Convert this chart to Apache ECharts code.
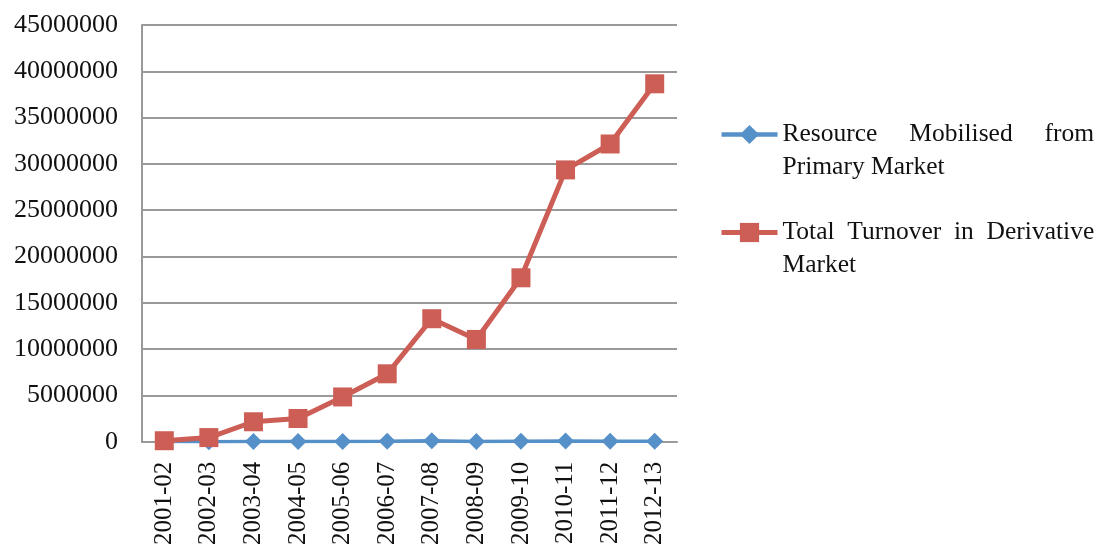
<!DOCTYPE html>
<html>
<head>
<meta charset="utf-8">
<script src="https://cdn.jsdelivr.net/npm/echarts@6/dist/echarts.min.js"></script>
<style>
  html, body { margin: 0; padding: 0; background: #fff; }
  #chart { width: 1096px; height: 548px; }
</style>
</head>
<body>
<div id="chart"></div>
<script>
// Financial years
const years = ['2001-02', '2002-03', '2003-04', '2004-05', '2005-06', '2006-07',
               '2007-08', '2008-09', '2009-10', '2010-11', '2011-12', '2012-13'];

// Resource mobilised from the primary market
const primaryMarket = [7543, 4070, 23272, 28256, 27382, 33508, 87029, 16220, 57555, 67609, 48468, 32455];

// Total turnover in the derivative market
const derivativeTurnover = [101925, 439862, 2150000, 2500000, 4830000, 7330000,
                            13280000, 11040000, 17700000, 29350000, 32150000, 38650000];

// Value axis ticks
const yMin = 0, yMax = 45000000, yStep = 5000000;

const seriesNames = ['Resource Mobilised from Primary Market', 'Total Turnover in Derivative Market'];
// Justified two-line legend entries; the leading blank line keeps the
// first text line level with the legend symbol.
const legendText = {
  'Resource Mobilised from Primary Market': '\nResource     Mobilised     from\nPrimary Market',
  'Total Turnover in Derivative Market': '\nTotal  Turnover  in  Derivative\nMarket'
};

const serif = '"Liberation Serif", "DejaVu Serif", serif';
const gridColor = '#999999';
const blue = '#5690C8';
const red = '#CD5E56';

const chart = echarts.init(document.getElementById('chart'));
chart.setOption({
  backgroundColor: '#ffffff',
  animation: false,
  grid: { left: 142, right: 419, top: 25, bottom: 105, containLabel: false },
  legend: {
    orient: 'vertical',
    left: 719,
    top: 85,
    padding: 0,
    itemGap: -1,
    itemWidth: 56,
    itemHeight: 24,
    data: [
      { name: seriesNames[0], lineStyle: { width: 4.5 } },
      { name: seriesNames[1], lineStyle: { width: 5 } }
    ],
    formatter: name => legendText[name],
    textStyle: {
      fontFamily: serif,
      fontSize: 25.5,
      color: '#111',
      lineHeight: 33
    }
  },
  xAxis: {
    type: 'category',
    data: years,
    boundaryGap: true,
    axisLine: { show: true, lineStyle: { color: gridColor, width: 2 } },
    axisTick: { show: false },
    axisLabel: {
      rotate: 90,
      margin: 20,
      interval: 0,
      fontFamily: serif,
      fontSize: 25,
      color: '#111'
    }
  },
  yAxis: {
    type: 'value',
    min: yMin,
    max: yMax,
    interval: yStep,
    axisLine: { show: true, lineStyle: { color: gridColor, width: 2 } },
    axisTick: { show: false },
    splitLine: { show: true, lineStyle: { color: gridColor, width: 2 } },
    axisLabel: {
      margin: 24,
      fontFamily: serif,
      fontSize: 26,
      color: '#111',
      formatter: v => String(v)
    }
  },
  series: [
    {
      name: seriesNames[0],
      type: 'line',
      data: primaryMarket,
      symbol: 'diamond',
      symbolSize: 17,
      lineStyle: { color: blue, width: 3.5 },
      itemStyle: { color: blue },
      z: 2
    },
    {
      name: seriesNames[1],
      type: 'line',
      data: derivativeTurnover,
      symbol: 'rect',
      symbolSize: 19,
      lineStyle: { color: red, width: 5 },
      itemStyle: { color: red },
      z: 3
    }
  ]
});
</script>
</body>
</html>
